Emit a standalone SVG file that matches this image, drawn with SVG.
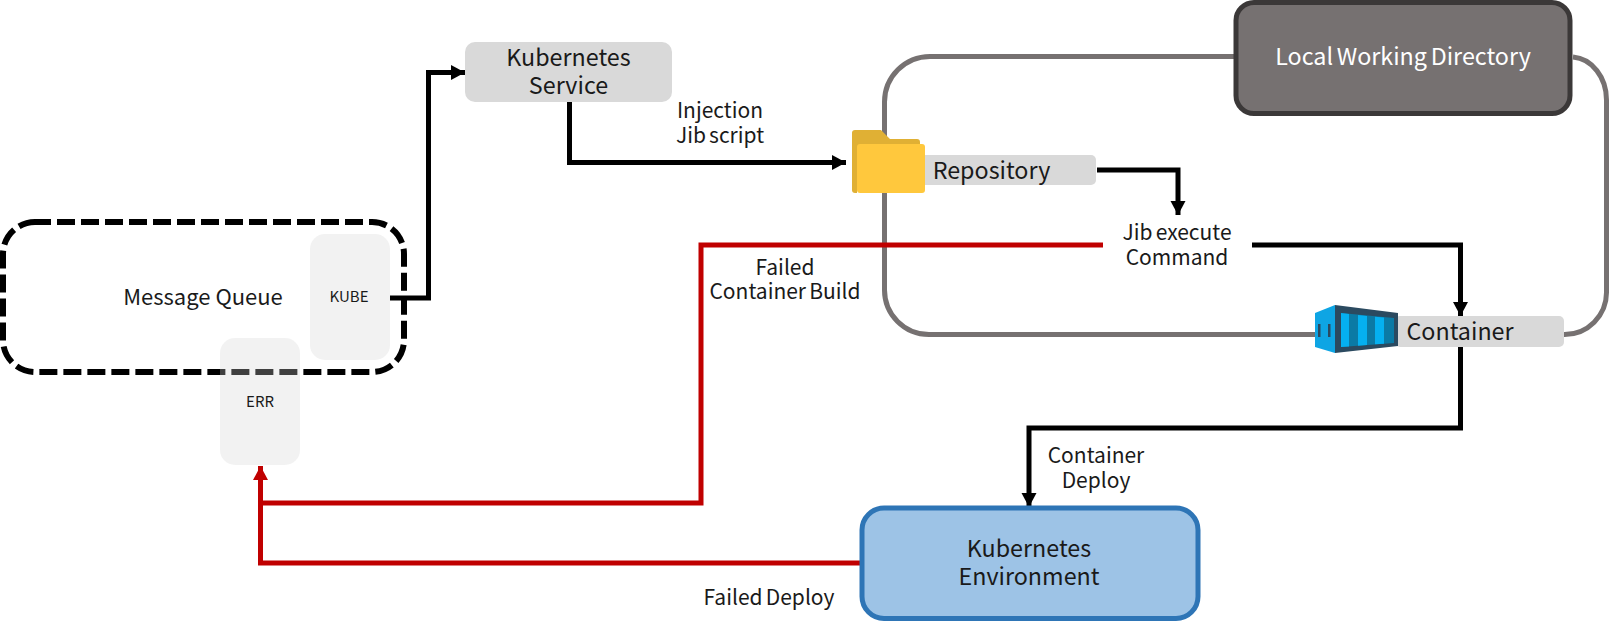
<svg xmlns="http://www.w3.org/2000/svg" width="1610" height="627" viewBox="0 0 1610 627">
<style>
text{font-family:"Noto Sans CJK KR","Noto Sans",sans-serif;fill:#1a1a1a;text-anchor:middle}
.l{font-size:21px}.m{font-size:23.300px}.s{font-size:15px}
.ns{word-spacing:-1.500px}
.k{fill:none;stroke:#000;stroke-width:5}
.r{fill:none;stroke:#c00000;stroke-width:5}
.g{fill:none;stroke:#767171;stroke-width:5}
.b{fill:#d9d9d9}
</style>
<defs>
<marker id="ak" markerUnits="userSpaceOnUse" markerWidth="16" markerHeight="16" refX="14" refY="8" orient="auto"><path d="M0 0.500L14 8L0 15.500z" fill="#000"/></marker>
<marker id="ar" markerUnits="userSpaceOnUse" markerWidth="16" markerHeight="16" refX="14" refY="8" orient="auto"><path d="M0 0.500L14 8L0 15.500z" fill="#c00000"/></marker>
</defs>
<g id="connectors">
<path class="g" d="M1236 56.500H930A45.500 45.500 0 0 0 884.500 102V290A44.500 44.500 0 0 0 929 334.500H1320"/>
<path class="g" d="M1573 57A36 43 0 0 1 1606.500 100V292A42 42 0 0 1 1564 334.500"/>
<path class="k" d="M390 298H428.500V72.500H465" marker-end="url(#ak)"/>
<path class="k" d="M569.500 102V162.500H846" marker-end="url(#ak)"/>
<path class="k" d="M1097 170H1178V215" marker-end="url(#ak)"/>
<path class="k" d="M1252 245H1460.500V316" marker-end="url(#ak)"/>
<path class="k" d="M1460.500 347V428H1029V507" marker-end="url(#ak)"/>
<path class="r" d="M1103 245H701V503H260.500V466" marker-end="url(#ar)"/>
<path class="r" d="M862 563H260.500V503"/>
</g>
<g id="local-working-directory">
<rect x="1236" y="2.500" width="334" height="111" rx="18" fill="#767171" stroke="#3b3838" stroke-width="5"/>
<text class="m ns" x="1403" y="65" style="fill:#fff">Local Working Directory</text>
</g>
<g id="message-queue">
<rect x="3" y="222" width="401" height="150" rx="32" fill="none" stroke="#000" stroke-width="6" stroke-dasharray="18 6" stroke-dashoffset="2"/>
<text x="203" y="305" style="font-size:22px">Message Queue</text>
</g>
<g id="kube">
<rect x="310" y="234" width="80" height="126" rx="15" fill="#f2f2f2"/>
<text class="s" x="349" y="302">KUBE</text>
</g>
<g id="err">
<rect x="220" y="338" width="80" height="127" rx="15" fill="#d4d4d4" fill-opacity=".3"/>
<text class="s" x="260" y="407">ERR</text>
</g>
<g id="kubernetes-service">
<rect class="b" x="465" y="42" width="207" height="60" rx="10"/>
<text class="m"><tspan x="568.500" y="66">Kubernetes</tspan><tspan x="568.500" y="94">Service</tspan></text>
</g>
<g id="repository">
<rect class="b" x="910" y="155" width="186" height="30" rx="5"/>
<path d="M855 130H881L890 139H917Q920 139 920 142V170H852V133Q852 130 855 130Z" fill="#e0b034"/>
<path d="M852 150H857V193H855Q852 193 852 190Z" fill="#e0b034"/>
<rect x="857" y="144" width="68" height="49" rx="3" fill="#ffc83d"/>
<text class="m" x="991.500" y="179">Repository</text>
</g>
<g id="container">
<rect class="b" x="1395" y="316" width="169" height="31" rx="5"/>
<path d="M1335 305L1398 313V346L1335 353Z" fill="#2b4a60"/>
<path d="M1315 313L1335 305V353L1315 347Z" fill="#0ea5e4"/>
<path d="M1341 313L1394 318V343L1341 347Z" fill="#0b7aa5"/>
<path d="M1341 313L1349 314V346.400L1341 347ZM1358 315L1367 316V345L1358 345.700ZM1375 316.700L1384 317.400V343.700L1375 344.300Z" fill="#05b0f0"/>
<path d="M1318 324h2.500v13h-2.500zM1328 324h2.500v13h-2.500z" fill="#2b4a60"/>
<text class="m" x="1460" y="340">Container</text>
</g>
<g id="jib-execute">
<text class="l"><tspan class="ns" x="1177" y="240">Jib execute</tspan><tspan x="1177" y="265">Command</tspan></text>
</g>
<g id="kubernetes-environment">
<rect x="862" y="508" width="336" height="110.500" rx="22" fill="#9dc3e6" stroke="#2e75b6" stroke-width="5"/>
<text class="m"><tspan x="1029" y="557">Kubernetes</tspan><tspan x="1029" y="585">Environment</tspan></text>
</g>
<g id="labels">
<text class="l"><tspan x="720" y="118">Injection</tspan><tspan class="ns" x="720" y="143">Jib script</tspan></text>
<text class="l"><tspan x="785" y="275">Failed</tspan><tspan class="ns" x="785" y="299">Container Build</tspan></text>
<text class="l"><tspan x="1096" y="463">Container</tspan><tspan x="1096" y="488">Deploy</tspan></text>
<text class="l ns" x="769" y="605">Failed Deploy</text>
</g>
</svg>
